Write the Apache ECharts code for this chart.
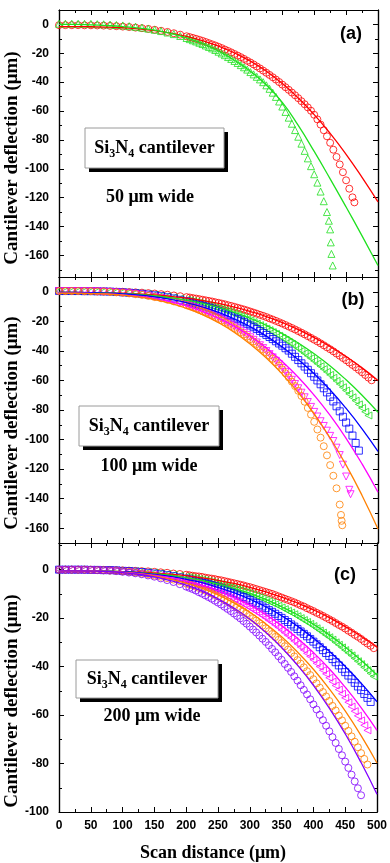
<!DOCTYPE html>
<html>
<head>
<meta charset="utf-8">
<script src="https://cdn.jsdelivr.net/npm/echarts@6.0.0/dist/echarts.min.js"></script>
<style>
  html, body { margin: 0; padding: 0; background: #fff; }
  #chart { width: 390px; height: 863px; }
</style>
</head>
<body>
<div id="chart"></div>
<script>
// scan positions of the measured points (um) and of the fitted curves
const scanX = [0,10,20,30,40,50,60,70,80,90,100,110,120,130,140,150,160,170,180,190,
  200,205,210,215,220,225,230,235,240,245,250,255,260,265,270,275,280,285,290,295,
  300,305,310,315,320,325,330,335,340,345,350,355,360,365,370,375,380,385,390,395,
  400,405,410,415,420,425,430,435,440,445,450,455,460,465,470,475,480,485,490,495,500];
const fitX = [0,25,50,75,100,125,150,175,200,225,250,275,300,325,350,375,400,425,450,475,500];

// tick values
const aMajor = [-160,-140,-120,-100,-80,-60,-40,-20,0];
const aMinor = [-170,-150,-130,-110,-90,-70,-50,-30,-10];
const bMajor = [-160,-140,-120,-100,-80,-60,-40,-20,0];
const bMinor = [-150,-130,-110,-90,-70,-50,-30,-10];
const cMajor = [-100,-80,-60,-40,-20,0];
const cMinor = [-90,-70,-50,-30,-10,10];

// (a) 50 um wide
const aRedPts = [-0.5,-0.5,-0.5,-0.5,-0.6,-0.6,-0.7,-0.8,-1,-1.2,-1.5,-1.8,-2.2,-2.6,-3.1,-3.7,-4.4,-5.2,-6.1,-7.1,
  -8.2,-8.8,-9.4,-10,-10.7,-11.4,-12.2,-13,-13.8,-14.6,-15.5,-16.4,-17.4,-18.4,-19.4,-20.5,-21.6,-22.7,-23.9,-25.2,-26.4,
  -27.7,-29.1,-30.5,-32,-33.5,-35,-36.6,-38.2,-39.9,-41.7,-43.5,-45.3,-47.2,-49.1,-51.1,-53.2,-55.3,-57.5,-59.8,-62.6,
  -65.8,-69.4,-73.3,-77.5,-82,-86.8,-91.8,-97,-102.4,-108,-113.8,-119.8];
const aRedTail = [[463,-123.3]];
const aRedFit = [-1.5,-1.5,-1.6,-1.8,-2.3,-3.1,-4.3,-6,-8.3,-11.3,-15,-19.8,-25.5,-32.5,-41,-51,-62.5,-75.5,-90,-106,-123];
const aGreenPts = [0.5,0.5,0.5,0.5,0.4,0.4,0.2,0.1,-0.1,-0.4,-0.7,-1.2,-1.6,-2.2,-2.9,-3.7,-4.6,-5.6,-6.7,-8,
  -9.4,-10.2,-11,-11.8,-12.7,-13.6,-14.6,-15.6,-16.6,-17.7,-18.9,-20.1,-21.3,-22.6,-23.9,-25.3,-26.7,-28.2,-29.7,-31.3,-33,
  -34.6,-36.3,-38.1,-40,-42.2,-44.6,-47.3,-50.2,-53.4,-56.9,-60.6,-64.6,-68.8,-73.2,-77.8,-82.6,-87.6,-92.8,-98.2,-103.8,
  -109.6,-115.8,-122.5,-130];
const aGreenTail = [[423,-136],[425,-142],[426,-151],[427,-159],[429,-167]];
const aGreenFit = [0,0,-0.3,-0.8,-1.5,-2.5,-4,-6.2,-9.3,-13.3,-18.5,-24.8,-32.5,-42,-54,-70,-88,-107,-126.5,-146.5,-167];

// (b) 100 um wide
const bRedPts = [0.5,0.5,0.5,0.5,0.5,0.4,0.4,0.3,0.2,0.1,0,-0.2,-0.4,-0.6,-0.9,-1.2,-1.6,-2,-2.5,-3,
  -3.6,-3.9,-4.3,-4.6,-5,-5.4,-5.8,-6.2,-6.6,-7.1,-7.5,-8,-8.5,-9.1,-9.6,-10.2,-10.8,-11.4,-12,-12.7,-13.4,
  -14.1,-14.8,-15.6,-16.3,-17.1,-18,-18.8,-19.7,-20.6,-21.5,-22.5,-23.5,-24.5,-25.5,-26.6,-27.7,-28.8,-30,-31.2,-32.4,
  -33.6,-34.9,-36.2,-37.6,-38.9,-40.3,-41.8,-43.3,-44.8,-46.3,-47.9,-49.5,-51.1,-52.8,-54.5,-56.3,-58.1,-59.9];
const bRedFit = [-0.5,-0.5,-0.6,-0.7,-1,-1.4,-2.1,-3.1,-4.3,-5.9,-7.9,-10.4,-13.4,-16.8,-20.9,-25.6,-31,-37,-43.9,-51.5,-60];
const bGreenPts = [0.5,0.5,0.5,0.5,0.5,0.4,0.3,0.3,0.1,0,-0.2,-0.5,-0.8,-1.1,-1.5,-2,-2.5,-3.1,-3.8,-4.6,
  -5.4,-5.9,-6.3,-6.8,-7.4,-7.9,-8.5,-9.1,-9.7,-10.4,-11,-11.7,-12.5,-13.2,-14,-14.9,-15.7,-16.6,-17.5,-18.5,-19.4,
  -20.5,-21.5,-22.6,-23.7,-24.9,-26,-27.3,-28.5,-29.8,-31.2,-32.5,-34,-35.4,-36.9,-38.4,-40,-41.6,-43.3,-45,-46.8,
  -48.6,-50.4,-52.3,-54.2,-56.2,-58.2,-60.3,-62.4,-64.6,-66.8,-69.1,-71.4,-73.7,-76.2,-78.6,-81.2,-83.7];
const bGreenFit = [-0.5,-0.5,-0.6,-0.8,-1.2,-1.8,-2.7,-4,-5.7,-7.9,-10.6,-14,-18,-22.7,-28.3,-34.7,-42,-50.2,-59.6,-70,-81.5];
const bBluePts = [0.5,0.5,0.5,0.5,0.4,0.4,0.3,0.2,0.1,-0.1,-0.4,-0.7,-1,-1.4,-1.9,-2.4,-3,-3.7,-4.5,-5.4,
  -6.4,-6.9,-7.5,-8.1,-8.7,-9.3,-10,-10.7,-11.4,-12.2,-13,-13.8,-14.7,-15.6,-16.5,-17.5,-18.5,-19.5,-20.6,-21.7,-22.8,
  -24,-25.2,-26.5,-27.8,-29.2,-30.6,-32,-33.5,-35,-36.5,-38.2,-39.8,-41.9,-44,-46.2,-48.4,-50.6,-52.8,-55.1,-57.5,
  -60,-62.6,-65.3,-68.1,-71.1,-74.2,-77.5,-80.9,-84.6,-88.5,-92.6,-97.3,-102.3,-107.5];
const bBlueFit = [-0.5,-0.5,-0.6,-0.9,-1.4,-2.2,-3.4,-5.1,-7.4,-10.3,-13.9,-18.4,-23.7,-30,-37.4,-45.9,-55.5,-66.5,-78.9,-92.7,-108];
const bMagentaPts = [0.5,0.5,0.5,0.5,0.4,0.4,0.3,0.1,-0.1,-0.4,-0.7,-1,-1.5,-2,-2.7,-3.4,-4.3,-5.2,-6.3,-7.5,
  -8.8,-9.5,-10.2,-11,-11.9,-12.7,-13.6,-14.6,-15.5,-16.6,-17.6,-18.7,-19.9,-21.1,-22.3,-23.6,-25,-26.4,-27.8,-29.3,-30.8,
  -32.5,-34.3,-36.2,-38.1,-40.1,-42.2,-44.4,-46.7,-49.1,-51.6,-54.2,-56.9,-59.6,-62.4,-65.3,-68.3,-71.4,-74.6,-77.9,-81.3,
  -84.4,-87.6,-90.8,-94,-97.5,-101,-105.5,-110.5,-117,-125,-134];
const bMagentaTail = [[457,-137]];
const bMagentaFit = [-1,-1,-1.1,-1.5,-2.1,-3.1,-4.6,-6.8,-9.6,-13.3,-17.8,-23.4,-30.1,-38,-47.2,-57.8,-70,-83.7,-99.2,-116.5,-135.7];
const bOrangePts = [0.5,0.5,0.5,0.5,0.4,0.4,0.2,0.1,-0.1,-0.4,-0.7,-1.1,-1.6,-2.1,-2.8,-3.6,-4.4,-5.4,-6.5,-7.7,
  -9.1,-9.8,-10.6,-11.4,-12.3,-13.2,-14.1,-15.1,-16.1,-17.2,-18.3,-19.4,-20.6,-21.8,-23.1,-24.5,-25.8,-27.3,-28.8,-30.3,-32,
  -33.6,-35.3,-37.1,-39,-41,-43.1,-45.3,-47.6,-50,-52.5,-55.1,-57.9,-60.8,-63.8,-67,-70.5,-74.4,-78.6,-83.1,-88,
  -93.2,-98.7,-104.5,-110.7,-117.3,-124.5,-133,-144];
const bOrangeTail = [[442,-151],[443,-155],[444,-158]];
const bOrangeFit = [-1,-1,-1.2,-1.5,-2.3,-3.5,-5.3,-7.8,-11.2,-15.5,-20.9,-27.5,-35.5,-44.8,-55.7,-68.3,-82.7,-99,-117.3,-137.8,-160.5];

// (c) 200 um wide
const cRedPts = [0,0,0,0,0,0,-0.1,-0.1,-0.1,-0.2,-0.3,-0.4,-0.5,-0.6,-0.7,-0.9,-1.1,-1.3,-1.6,-1.8,
  -2.1,-2.3,-2.5,-2.7,-2.8,-3,-3.3,-3.5,-3.7,-3.9,-4.2,-4.4,-4.7,-5,-5.3,-5.6,-5.9,-6.2,-6.5,-6.9,-7.2,
  -7.6,-8,-8.4,-8.8,-9.2,-9.6,-10,-10.5,-11,-11.5,-12,-12.5,-13,-13.5,-14.1,-14.7,-15.2,-15.9,-16.5,-17.1,
  -17.8,-18.4,-19.1,-19.8,-20.5,-21.2,-22,-22.8,-23.5,-24.3,-25.2,-26,-26.9,-27.7,-28.6,-29.6,-30.5,-31.4,-32.4];
const cRedFit = [-0.5,-0.5,-0.5,-0.6,-0.8,-1,-1.4,-1.9,-2.5,-3.4,-4.4,-5.7,-7.3,-9.2,-11.3,-13.8,-16.6,-19.8,-23.5,-27.5,-32];
const cGreenPts = [0,0,0,0,0,0,-0.1,-0.1,-0.2,-0.3,-0.4,-0.5,-0.6,-0.8,-1,-1.2,-1.5,-1.8,-2.1,-2.5,
  -2.9,-3.1,-3.4,-3.6,-3.9,-4.1,-4.4,-4.7,-5,-5.4,-5.7,-6,-6.4,-6.8,-7.2,-7.6,-8,-8.4,-8.9,-9.3,-9.8,
  -10.3,-10.8,-11.4,-11.9,-12.5,-13.1,-13.7,-14.3,-14.9,-15.6,-16.3,-17,-17.7,-18.4,-19.2,-20,-20.8,-21.6,-22.4,-23.3,
  -24.2,-25.1,-26,-27,-27.9,-28.9,-30,-31,-32.1,-33.2,-34.3,-35.4,-36.6,-37.8,-39,-40.3,-41.5,-42.8,-44.1];
const cGreenFit = [-0.5,-0.5,-0.5,-0.6,-0.8,-1.2,-1.7,-2.3,-3.3,-4.4,-5.9,-7.7,-9.8,-12.3,-15.3,-18.6,-22.5,-26.9,-31.9,-37.4,-43.5];
const cBluePts = [0,0,0,0,0,-0.1,-0.1,-0.2,-0.2,-0.3,-0.5,-0.6,-0.8,-1,-1.3,-1.6,-1.9,-2.3,-2.7,-3.2,
  -3.7,-4,-4.3,-4.6,-4.9,-5.3,-5.6,-6,-6.4,-6.8,-7.3,-7.7,-8.2,-8.6,-9.1,-9.6,-10.2,-10.7,-11.3,-11.9,-12.5,
  -13.2,-13.8,-14.5,-15.2,-15.9,-16.7,-17.4,-18.2,-19.1,-19.9,-20.8,-21.6,-22.6,-23.5,-24.5,-25.5,-26.5,-27.5,-28.6,-29.7,
  -30.8,-32,-33.2,-34.4,-35.6,-36.9,-38.2,-39.5,-40.9,-42.3,-43.7,-45.2,-46.7,-48.2,-49.7,-51.3,-52.9,-54.6];
const cBlueFit = [-0.5,-0.5,-0.6,-0.7,-0.9,-1.3,-2,-2.8,-4,-5.4,-7.3,-9.5,-12.2,-15.3,-19,-23.3,-28.2,-33.7,-39.9,-46.8,-54.5];
const cMagentaPts = [0,0,0,0,0,-0.1,-0.1,-0.2,-0.3,-0.4,-0.6,-0.8,-1,-1.3,-1.6,-2,-2.4,-2.9,-3.4,-4,
  -4.6,-5,-5.4,-5.8,-6.2,-6.6,-7.1,-7.5,-8,-8.5,-9.1,-9.6,-10.2,-10.8,-11.4,-12.1,-12.7,-13.4,-14.2,-14.9,-15.7,
  -16.5,-17.3,-18.2,-19,-19.9,-20.9,-21.8,-22.8,-23.8,-24.9,-26,-27.1,-28.2,-29.4,-30.6,-31.9,-33.1,-34.5,-35.8,-37.2,
  -38.6,-40,-41.5,-43,-44.6,-46.2,-47.8,-49.5,-51.2,-52.9,-54.7,-56.5,-58.4,-60.3,-62.2,-64.2,-66.3];
const cMagentaFit = [-0.5,-0.5,-0.6,-0.7,-1,-1.5,-2.3,-3.3,-4.7,-6.5,-8.7,-11.5,-14.7,-18.6,-23.1,-28.3,-34.2,-40.9,-48.5,-56.9,-66.3];
const cOrangePts = [0,0,0,0,0,-0.1,-0.2,-0.2,-0.4,-0.5,-0.7,-0.9,-1.2,-1.6,-1.9,-2.4,-2.9,-3.5,-4.1,-4.8,
  -5.7,-6.1,-6.5,-7,-7.5,-8,-8.6,-9.2,-9.8,-10.4,-11,-11.7,-12.4,-13.1,-13.9,-14.7,-15.5,-16.4,-17.2,-18.1,-19.1,
  -20,-21,-22.1,-23.1,-24.2,-25.4,-26.6,-27.8,-29,-30.3,-31.6,-33,-34.4,-35.8,-37.3,-38.8,-40.3,-41.9,-43.5,-45.2,
  -46.9,-48.7,-50.5,-52.3,-54.2,-56.2,-58.1,-60.2,-62.2,-64.4,-66.5,-68.8,-71,-73.3,-75.7,-78.1,-80.4];
const cOrangeFit = [-0.5,-0.5,-0.6,-0.8,-1.1,-1.7,-2.6,-3.9,-5.6,-7.7,-10.4,-13.7,-17.6,-22.3,-27.7,-34,-41.1,-49.2,-58.3,-68.5,-79.8];
const cPurplePts = [0,0,0,0,-0.1,-0.1,-0.2,-0.3,-0.4,-0.6,-0.9,-1.2,-1.5,-1.9,-2.4,-2.9,-3.6,-4.3,-5.1,-6,
  -7,-7.5,-8,-8.6,-9.3,-9.9,-10.6,-11.3,-12,-12.8,-13.6,-14.4,-15.3,-16.2,-17.1,-18.1,-19.1,-20.1,-21.2,-22.3,-23.5,
  -24.7,-25.9,-27.2,-28.5,-29.8,-31.2,-32.7,-34.1,-35.7,-37.2,-38.9,-40.5,-42.2,-44,-45.8,-47.7,-49.6,-51.5,-53.5,-55.6,
  -57.7,-59.9,-62.1,-64.4,-66.7,-69.1,-71.5,-74,-76.6,-79.2,-81.8,-84.6,-87.4,-90.2,-93.1];
const cPurpleFit = [-0.5,-0.5,-0.6,-0.8,-1.2,-1.9,-3,-4.5,-6.4,-8.9,-12,-15.8,-20.4,-25.8,-32.1,-39.4,-47.7,-57.1,-67.7,-79.6,-92.7];

const RED = '#ff0000', GREEN = '#1fe01f', BLUE = '#0000ff',
      MAGENTA = '#ff00ff', ORANGE = '#ff8000', PURPLE = '#8000ff';

function pts(ys, tail) {
  const d = ys.map((y, i) => [scanX[i], y]);
  return tail ? d.concat(tail) : d;
}
function fit(ys) {
  return ys.map((y, i) => [fitX[i], y]);
}

const panels = [
  {
    top: 10, height: 267, min: -175, max: 10, major: aMajor, minor: aMinor, xLabels: false,
    curves: [
      { color: RED, symbol: 'circle', rot: 0, pts: pts(aRedPts, aRedTail), fit: fit(aRedFit) },
      { color: GREEN, symbol: 'triangle', rot: 0, pts: pts(aGreenPts, aGreenTail), fit: fit(aGreenFit) }
    ]
  },
  {
    top: 277, height: 266, min: -170, max: 10, major: bMajor, minor: bMinor, xLabels: false,
    curves: [
      { color: RED, symbol: 'circle', rot: 0, pts: pts(bRedPts), fit: fit(bRedFit) },
      { color: GREEN, symbol: 'triangle', rot: 90, pts: pts(bGreenPts), fit: fit(bGreenFit) },
      { color: BLUE, symbol: 'rect', rot: 0, pts: pts(bBluePts), fit: fit(bBlueFit) },
      { color: MAGENTA, symbol: 'triangle', rot: 180, pts: pts(bMagentaPts, bMagentaTail), fit: fit(bMagentaFit) },
      { color: ORANGE, symbol: 'circle', rot: 0, pts: pts(bOrangePts, bOrangeTail), fit: fit(bOrangeFit) }
    ]
  },
  {
    top: 543, height: 269, min: -100, max: 11, major: cMajor, minor: cMinor, xLabels: true,
    curves: [
      { color: RED, symbol: 'circle', rot: 0, pts: pts(cRedPts), fit: fit(cRedFit) },
      { color: GREEN, symbol: 'triangle', rot: 90, pts: pts(cGreenPts), fit: fit(cGreenFit) },
      { color: BLUE, symbol: 'rect', rot: 0, pts: pts(cBluePts), fit: fit(cBlueFit) },
      { color: MAGENTA, symbol: 'triangle', rot: 90, pts: pts(cMagentaPts), fit: fit(cMagentaFit) },
      { color: ORANGE, symbol: 'circle', rot: 0, pts: pts(cOrangePts), fit: fit(cOrangeFit) },
      { color: PURPLE, symbol: 'circle', rot: 0, pts: pts(cPurplePts), fit: fit(cPurpleFit) }
    ]
  }
];

const SANS = '"Liberation Sans", Arial, sans-serif';
const SERIF = '"Liberation Serif", "Times New Roman", serif';
const frame = { show: true, onZero: false, lineStyle: { color: '#000', width: 1.2 } };

const grid = [], xAxis = [], yAxis = [], series = [];
panels.forEach((p, i) => {
  grid.push({ left: 59, top: p.top, width: 319, height: p.height });
  ['bottom', 'top'].forEach(pos => {
    xAxis.push({
      type: 'value', gridIndex: i, position: pos, min: 0, max: 500, interval: 50,
      axisLine: frame,
      axisTick: { inside: true, length: 5, lineStyle: { color: '#000' } },
      minorTick: { show: true, splitNumber: 2, length: 3, lineStyle: { color: '#000' } },
      axisLabel: {
        show: p.xLabels && pos === 'bottom', margin: 8, color: '#000',
        fontSize: 12, fontWeight: 'bold', fontFamily: SANS
      },
      splitLine: { show: false }
    });
  });
  [['left', p.major, 5, true], ['right', p.major, 5, false],
   ['left', p.minor, 3, false], ['right', p.minor, 3, false]].forEach(([pos, vals, len, lab]) => {
    yAxis.push({
      type: 'value', gridIndex: i, position: pos, min: p.min, max: p.max,
      axisLine: frame,
      axisTick: { show: true, inside: true, length: len, customValues: vals, lineStyle: { color: '#000' } },
      axisLabel: {
        show: lab, customValues: vals, margin: 10, color: '#000',
        fontSize: 12, fontWeight: 'bold', fontFamily: SANS
      },
      splitLine: { show: false }
    });
  });
  p.curves.forEach(c => {
    series.push({
      type: 'scatter', xAxisIndex: i * 2, yAxisIndex: i * 4, data: c.pts,
      symbol: c.symbol, symbolSize: 7, symbolRotate: c.rot, silent: true,
      itemStyle: { color: 'rgba(0,0,0,0)', borderColor: c.color, borderWidth: 1 }
    });
    series.push({
      type: 'line', xAxisIndex: i * 2, yAxisIndex: i * 4, data: c.fit,
      smooth: true, showSymbol: false, symbol: 'none', silent: true,
      lineStyle: { color: c.color, width: 1.3 }
    });
  });
});

function label(x, y, text, font, rot) {
  return {
    type: 'text', x: x, y: y, rotation: rot || 0, silent: true,
    style: { text: text, font: font, fill: '#000', align: 'center', verticalAlign: 'middle' }
  };
}
function siBox(x, y, w, h) {
  return [
    { type: 'rect', shape: { x: x + 4, y: y + 4, width: w, height: h }, style: { fill: '#000' }, silent: true },
    { type: 'rect', shape: { x: x, y: y, width: w, height: h }, style: { fill: '#fff', stroke: '#9a9a9a', lineWidth: 1 }, silent: true },
    {
      type: 'text', x: x + w / 2, y: y + h / 2, silent: true,
      style: {
        text: '{m|Si}{s|3}{m|N}{s|4}{m| cantilever}', align: 'center', verticalAlign: 'middle',
        rich: {
          m: { fontSize: 18, fontWeight: 'bold', fontFamily: SERIF, lineHeight: 24, fill: '#000' },
          s: { fontSize: 12, fontWeight: 'bold', fontFamily: SERIF, lineHeight: 12, verticalAlign: 'bottom', fill: '#000' }
        }
      }
    }
  ];
}

const yTitle = 'Cantilever deflection (\u03bcm)';
const graphic = [
  label(12, 158, yTitle, 'bold 19px ' + SERIF, Math.PI / 2),
  label(12, 423, yTitle, 'bold 19px ' + SERIF, Math.PI / 2),
  label(12, 701, yTitle, 'bold 19px ' + SERIF, Math.PI / 2),
  label(213, 853, 'Scan distance (\u03bcm)', 'bold 18px ' + SERIF),
  label(351, 34, '(a)', 'bold 18px ' + SANS),
  label(353, 300, '(b)', 'bold 18px ' + SANS),
  label(345, 575, '(c)', 'bold 18px ' + SANS),
  label(150, 197, '50 \u03bcm wide', 'bold 18px ' + SERIF),
  label(149, 466, '100 \u03bcm wide', 'bold 18px ' + SERIF),
  label(152, 716, '200 \u03bcm wide', 'bold 18px ' + SERIF)
].concat(siBox(85, 128, 139, 40), siBox(79, 406, 140, 40), siBox(76, 660, 142, 38));

const chart = echarts.init(document.getElementById('chart'), null, { renderer: 'canvas' });
chart.setOption({
  animation: false,
  backgroundColor: '#fff',
  grid: grid,
  xAxis: xAxis,
  yAxis: yAxis,
  series: series,
  graphic: graphic
});
</script>
</body>
</html>
